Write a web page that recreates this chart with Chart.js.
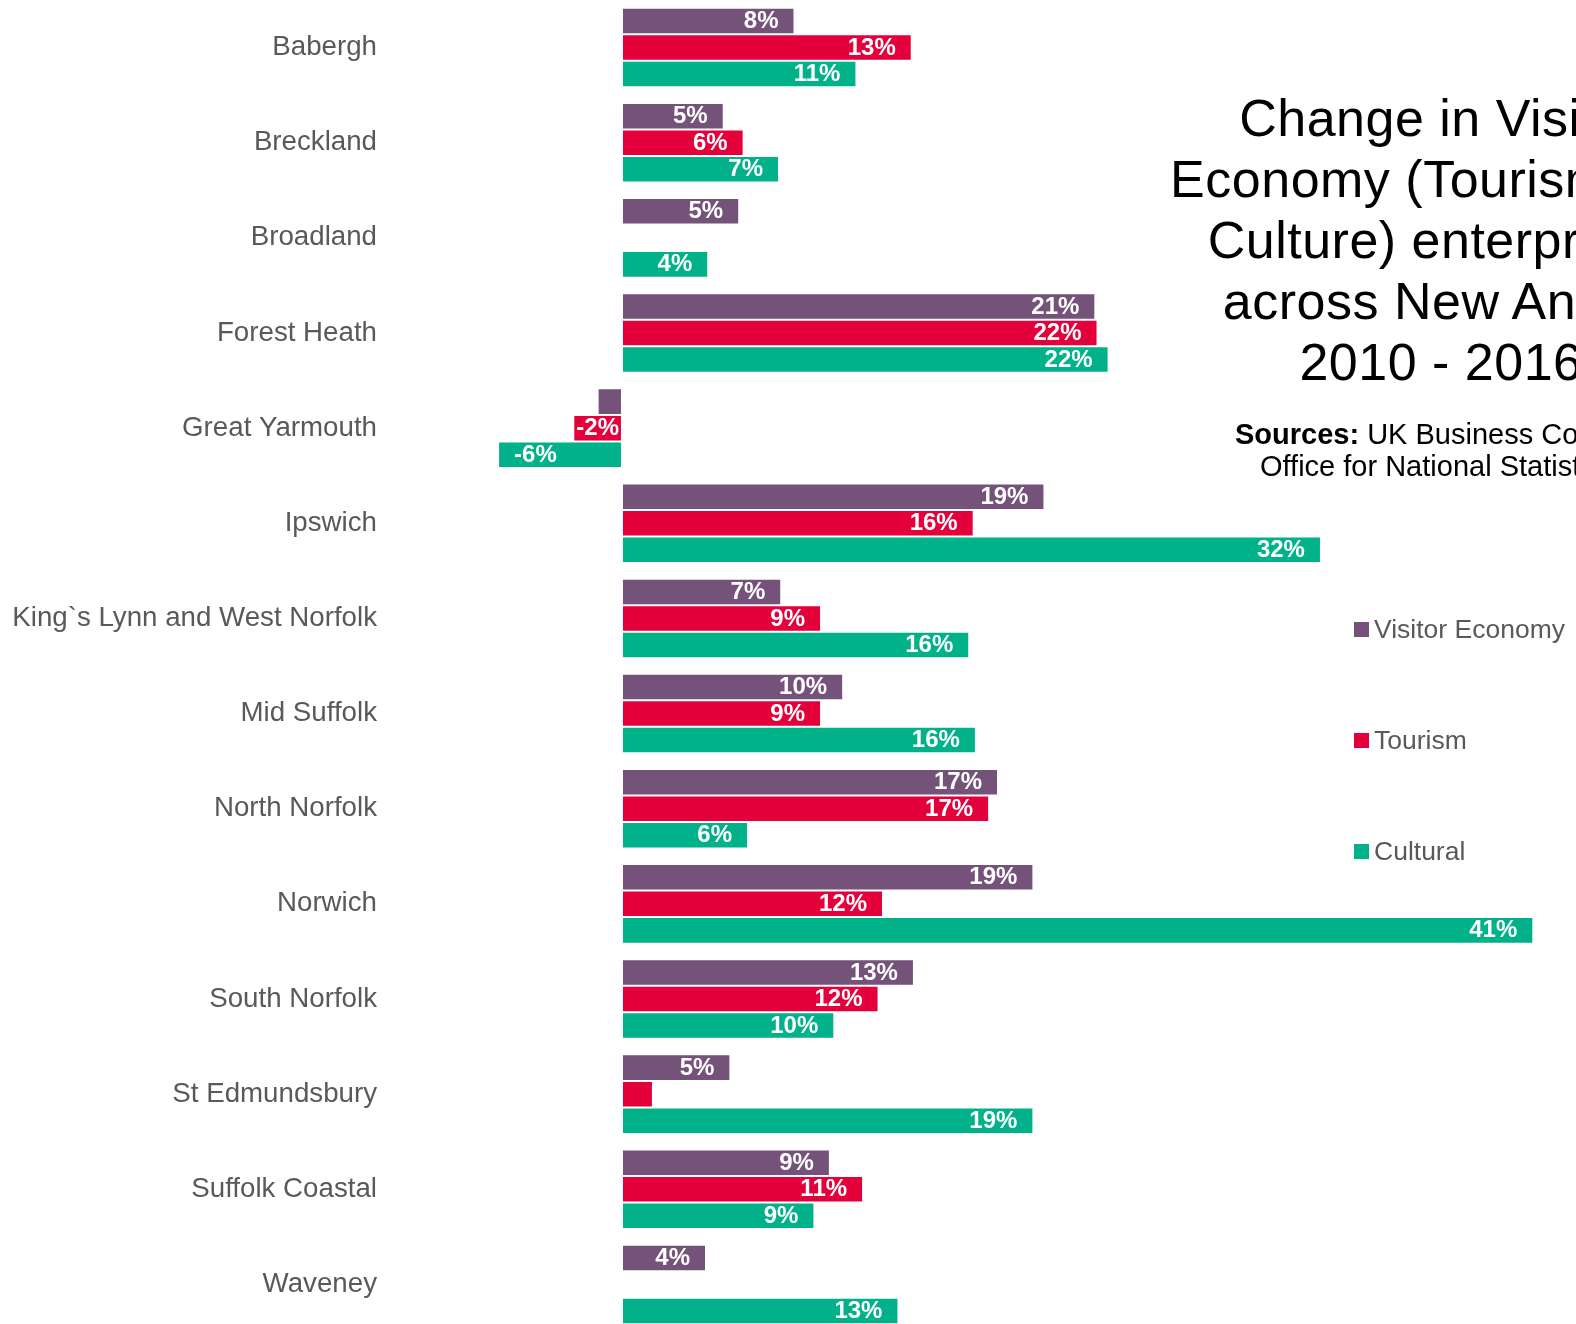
<!DOCTYPE html>
<html>
<head>
<meta charset="utf-8">
<title>Change in Visitor Economy enterprises across New Anglia 2010 - 2016</title>
<script src="https://cdn.jsdelivr.net/npm/chart.js@4/dist/chart.umd.min.js"></script>
<style>
  html, body { margin: 0; padding: 0; background: #fff; overflow: hidden; }
  body { width: 1576px; height: 1324px; position: relative; font-family: "Liberation Sans", Arial, sans-serif; }
  #wrap { position: absolute; left: 0; top: 0; width: 1576px; height: 1332px; }
  .title { position: absolute; left: 1141px; top: 88px; width: 600px; text-align: center;
           font-size: 52px; line-height: 61px; color: #000; white-space: nowrap; letter-spacing: 0.5px; }
  .src { position: absolute; font-size: 29px; line-height: 32px; color: #000; white-space: nowrap; }
  .legend { position: absolute; left: 1354px; font-size: 26.5px; color: #595959; white-space: nowrap; }
  .legend span.box { display: inline-block; width: 15px; height: 15px; margin-right: 5px; vertical-align: 1px; }
</style>
</head>
<body>
<div id="wrap"><canvas id="myBarChart"></canvas></div>

<div class="title">Change in Visitor<br>Economy (Tourism and<br>Culture) enterprises<br>across New Anglia<br>2010 - 2016</div>
<div class="src" style="left:1235px; top:418px;"><b>Sources:</b> UK Business Counts</div>
<div class="src" style="left:1260px; top:450px;">Office for National Statistics</div>
<div id="legend"></div>

<script>
// Categories (districts) and % change for each series
var districts = ['Babergh', 'Breckland', 'Broadland', 'Forest Heath', 'Great Yarmouth', 'Ipswich',
  'King`s Lynn and West Norfolk', 'Mid Suffolk', 'North Norfolk', 'Norwich', 'South Norfolk',
  'St Edmundsbury', 'Suffolk Coastal', 'Waveney'];

var visitorEconomy = [7.8, 4.6, 5.3, 21.4, -1.1, 19.1, 7.2, 10.0, 17.0, 18.6, 13.2, 4.9, 9.4, 3.8];
var tourism        = [13.1, 5.5, null, 21.5, -2.2, 15.9, 9.0, 9.0, 16.6, 11.8, 11.6, 1.4, 10.9, null];
var cultural       = [10.6, 7.1, 3.9, 22.0, -5.6, 31.6, 15.7, 16.0, 5.7, 41.2, 9.6, 18.6, 8.7, 12.5];

var seriesNames = ['Visitor Economy', 'Tourism', 'Cultural'];
var seriesColors = ['#74527A', '#E4003B', '#00B189'];

document.addEventListener("DOMContentLoaded", function () {

  var canvas = document.getElementById('myBarChart');
  canvas.width = 1576;
  canvas.height = 1332;

  // draws the white % labels inside the end of each bar
  var barLabels = {
    id: 'barLabels',
    afterDatasetsDraw: function (chart) {
      var ctx = chart.ctx;
      ctx.save();
      ctx.font = 'bold 24px "Liberation Sans", Arial, sans-serif';
      ctx.fillStyle = '#ffffff';
      ctx.textBaseline = 'middle';
      chart.data.datasets.forEach(function (ds, i) {
        var meta = chart.getDatasetMeta(i);
        meta.data.forEach(function (bar, j) {
          var v = ds.data[j];
          if (v === null || v === undefined) return;
          var txt = Math.round(v) + '%';
          var w = Math.abs(bar.x - bar.base);
          var tw = ctx.measureText(txt).width;
          if (w < tw + 2) return;
          var y = bar.y + 0.5;
          if (w < tw + 32) {
            // tight fit: centre the label in the bar
            ctx.textAlign = 'center';
            ctx.fillText(txt, (bar.x + bar.base) / 2, y);
          } else if (v >= 0) {
            ctx.textAlign = 'right';
            ctx.fillText(txt, bar.x - 16, y);
          } else {
            ctx.textAlign = 'left';
            ctx.fillText(txt, bar.x + 16, y);
          }
        });
      });
      ctx.restore();
    }
  };

  var myBarChart = new Chart(canvas.getContext('2d'), {
    type: 'bar',
    data: {
      labels: districts,
      datasets: [visitorEconomy, tourism, cultural].map(function (d, i) {
        return {
          label: seriesNames[i],
          data: d,
          backgroundColor: seriesColors[i],
          borderColor: 'rgba(255,255,255,0.45)',
          borderWidth: 1,
          borderSkipped: false,
          categoryPercentage: 0.836,
          barPercentage: 1.0
        };
      })
    },
    options: {
      indexAxis: 'y',
      responsive: false,
      animation: false,
      layout: { padding: { left: 0, right: 25, top: 0, bottom: 0 } },
      scales: {
        x: {
          display: false,
          min: -8,
          max: 42
        },
        y: {
          grid: { display: false, drawTicks: false },
          border: { display: false },
          afterFit: function (scale) {
            scale.width = 445;
            // tick padding would otherwise push the plot down
            scale.paddingTop = 0;
            scale.paddingBottom = 0;
          },
          ticks: {
            padding: 68,
            color: '#595959',
            font: { family: '"Liberation Sans", Arial, sans-serif', size: 27.7 }
          }
        }
      },
      plugins: {
        legend: { display: false },
        tooltip: { enabled: false }
      }
    },
    plugins: [barLabels]
  });

  // legend on the right
  var legendTops = [614, 725, 836];
  var legendDiv = document.getElementById('legend');
  seriesNames.forEach(function (name, i) {
    var el = document.createElement('div');
    el.className = 'legend';
    el.style.top = legendTops[i] + 'px';
    el.innerHTML = '<span class="box" style="background:' + seriesColors[i] + '"></span>' + name;
    legendDiv.appendChild(el);
  });

});
</script>
</body>
</html>
